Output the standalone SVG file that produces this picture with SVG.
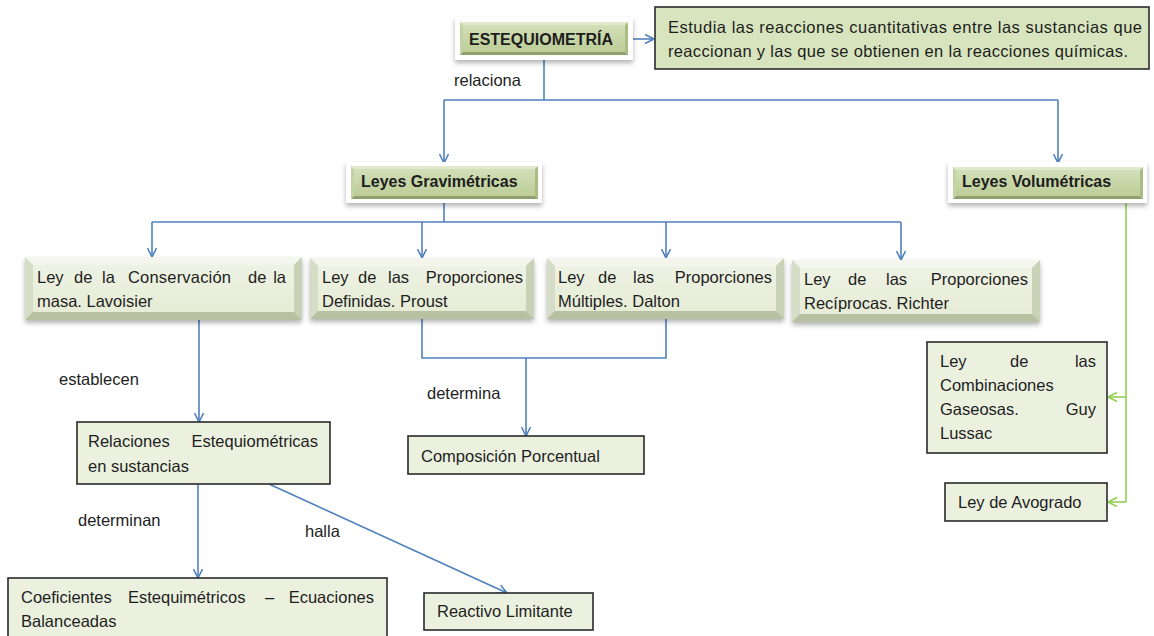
<svg xmlns="http://www.w3.org/2000/svg" width="1154" height="636" viewBox="0 0 1154 636">
<defs>
<style>
text{font-family:"Liberation Sans",Arial,sans-serif;font-size:16.5px;fill:#1e1e1e}
.b{font-weight:bold;font-size:16px}
.e{text-anchor:end}
.plain{fill:#ebf1de;stroke:#2a2a2a;stroke-width:1.6}
.desc{fill:#d7e4bd;stroke:#2a2a2a;stroke-width:1.6}
.frame{fill:#ffffff}
.bt{fill:#f4f6ee}.bl{fill:#d6ddc7}.br{fill:#c9d1b7}.bb{fill:#b7c1a2}
.face{fill:url(#gLight)}
.gt{fill:#e0e9cc}.gl{fill:#c4d3a4}.gr{fill:#a9bc83}.gb{fill:#8ea06b}
.gface{fill:url(#gGreen)}
.con{fill:none;stroke:#4f81bd;stroke-width:1.6}
.gcon{fill:none;stroke:#92d050;stroke-width:1.6}
</style>
<linearGradient id="gLight" x1="0" y1="0" x2="0" y2="1">
<stop offset="0" stop-color="#eef2e4"/><stop offset="1" stop-color="#e6ecd6"/>
</linearGradient>
<linearGradient id="gGreen" x1="0" y1="0" x2="0" y2="1">
<stop offset="0" stop-color="#d3dfb8"/><stop offset="1" stop-color="#bccd97"/>
</linearGradient>
<filter id="sh" x="-10%" y="-30%" width="120%" height="170%">
<feDropShadow dx="0" dy="3" stdDeviation="2.5" flood-color="#000" flood-opacity="0.3"/>
</filter>
<marker id="ab" viewBox="0 0 10 10" refX="10" refY="5" markerWidth="10" markerHeight="10" markerUnits="userSpaceOnUse" orient="auto">
<path d="M1,0.5 L10,5 L1,9.5" fill="none" stroke="#4f81bd" stroke-width="1.6"/>
</marker>
<marker id="ag" viewBox="0 0 10 10" refX="10" refY="5" markerWidth="10" markerHeight="10" markerUnits="userSpaceOnUse" orient="auto">
<path d="M1,0.5 L10,5 L1,9.5" fill="none" stroke="#92d050" stroke-width="1.6"/>
</marker>
</defs>
<rect width="1154" height="636" fill="#ffffff"/>

<g id="connectors">
<path class="con" d="M628,39 H654" marker-end="url(#ab)"/>
<path class="con" d="M544,55 V100"/>
<path class="con" d="M444,100 H1058"/>
<path class="con" d="M444,100 V163" marker-end="url(#ab)"/>
<path class="con" d="M1058,100 V163" marker-end="url(#ab)"/>
<path class="con" d="M444,199 V222"/>
<path class="con" d="M152,222 H901"/>
<path class="con" d="M152,222 V257" marker-end="url(#ab)"/>
<path class="con" d="M422,222 V258" marker-end="url(#ab)"/>
<path class="con" d="M666,222 V258" marker-end="url(#ab)"/>
<path class="con" d="M901,222 V260" marker-end="url(#ab)"/>
<path class="con" d="M199,320 V422" marker-end="url(#ab)"/>
<path class="con" d="M422,319 V358 H666 V319"/>
<path class="con" d="M526,358 V436" marker-end="url(#ab)"/>
<path class="con" d="M198,484 V578" marker-end="url(#ab)"/>
<path class="con" d="M269,484 L507,593" marker-end="url(#ab)"/>
<path class="gcon" d="M1126,203 V502"/>
<path class="gcon" d="M1126,397 H1108" marker-end="url(#ag)"/>
<path class="gcon" d="M1126,502 H1108" marker-end="url(#ag)"/>
<text x="454" y="86">relaciona</text>
<text x="59" y="385">establecen</text>
<text x="427" y="399">determina</text>
<text x="78" y="526">determinan</text>
<text x="305" y="537">halla</text>
</g>

<g id="estequiometria">
<rect class="frame" x="455" y="17" width="178" height="43" filter="url(#sh)"/>
<polygon class="gt" points="460,22 628,22 625,25 463,25"/>
<polygon class="gl" points="460,22 463,25 463,52 460,55"/>
<polygon class="gr" points="628,22 628,55 625,52 625,25"/>
<polygon class="gb" points="460,55 628,55 625,52 463,52"/>
<rect class="gface" x="463" y="25" width="162" height="27"/>
<text class="b" x="469" y="45">ESTEQUIOMETRÍA</text>
</g>

<g id="definicion">
<rect class="desc" x="655" y="7" width="494" height="62"/>
<text x="668" y="33" textLength="474" lengthAdjust="spacing">Estudia las reacciones cuantitativas entre las sustancias que</text>
<text x="668" y="57" textLength="460" lengthAdjust="spacing">reaccionan y las que se obtienen en la reacciones químicas.</text>
</g>

<g id="leyes-gravimetricas">
<rect class="frame" x="346" y="162" width="196" height="41" filter="url(#sh)"/>
<polygon class="gt" points="351,166 538,166 535,169 354,169"/>
<polygon class="gl" points="351,166 354,169 354,196 351,199"/>
<polygon class="gr" points="538,166 538,199 535,196 535,169"/>
<polygon class="gb" points="351,199 538,199 535,196 354,196"/>
<rect class="gface" x="354" y="169" width="181" height="27"/>
<text class="b" x="361" y="187">Leyes Gravimétricas</text>
</g>

<g id="leyes-volumetricas">
<rect class="frame" x="948" y="162" width="199" height="41" filter="url(#sh)"/>
<polygon class="gt" points="953,167 1143,167 1140,170 956,170"/>
<polygon class="gl" points="953,167 956,170 956,196 953,199"/>
<polygon class="gr" points="1143,167 1143,199 1140,196 1140,170"/>
<polygon class="gb" points="953,199 1143,199 1140,196 956,196"/>
<rect class="gface" x="956" y="170" width="184" height="26"/>
<text class="b" x="962" y="187">Leyes Volumétricas</text>
</g>

<g id="ley-conservacion">
<g filter="url(#sh)">
<polygon class="bt" points="25,257 302,257 294,265 33,265"/>
<polygon class="bl" points="25,257 33,265 33,312 25,320"/>
<polygon class="br" points="302,257 302,320 294,312 294,265"/>
<polygon class="bb" points="25,320 302,320 294,312 33,312"/>
<rect class="face" x="33" y="265" width="261" height="47"/>
</g>
<text x="37" y="283">Ley</text><text x="74" y="283">de</text><text x="102" y="283">la</text><text x="128" y="283" textLength="103" lengthAdjust="spacing">Conservación</text><text x="248" y="283">de</text><text class="e" x="286" y="283">la</text>
<text x="37" y="307">masa. Lavoisier</text>
</g>

<g id="ley-definidas">
<g filter="url(#sh)">
<polygon class="bt" points="310,258 534,258 526,266 318,266"/>
<polygon class="bl" points="310,258 318,266 318,311 310,319"/>
<polygon class="br" points="534,258 534,319 526,311 526,266"/>
<polygon class="bb" points="310,319 534,319 526,311 318,311"/>
<rect class="face" x="318" y="266" width="208" height="45"/>
</g>
<text x="322" y="283">Ley</text><text x="358" y="283">de</text><text x="388" y="283">las</text><text class="e" x="523" y="283">Proporciones</text>
<text x="322" y="307">Definidas. Proust</text>
</g>

<g id="ley-multiples">
<g filter="url(#sh)">
<polygon class="bt" points="547,258 784,258 776,266 555,266"/>
<polygon class="bl" points="547,258 555,266 555,311 547,319"/>
<polygon class="br" points="784,258 784,319 776,311 776,266"/>
<polygon class="bb" points="547,319 784,319 776,311 555,311"/>
<rect class="face" x="555" y="266" width="221" height="45"/>
</g>
<text x="558" y="283">Ley</text><text x="598" y="283">de</text><text x="633" y="283">las</text><text class="e" x="772" y="283">Proporciones</text>
<text x="558" y="307">Múltiples. Dalton</text>
</g>

<g id="ley-reciprocas">
<g filter="url(#sh)">
<polygon class="bt" points="792,260 1040,260 1032,268 800,268"/>
<polygon class="bl" points="792,260 800,268 800,314 792,322"/>
<polygon class="br" points="1040,260 1040,322 1032,314 1032,268"/>
<polygon class="bb" points="792,322 1040,322 1032,314 800,314"/>
<rect class="face" x="800" y="268" width="232" height="46"/>
</g>
<text x="804" y="285">Ley</text><text x="848" y="285">de</text><text x="886" y="285">las</text><text class="e" x="1028" y="285">Proporciones</text>
<text x="804" y="309">Recíprocas. Richter</text>
</g>

<g id="relaciones">
<rect class="plain" x="77" y="422" width="253" height="62"/>
<text x="88" y="447">Relaciones</text><text class="e" x="318" y="447">Estequiométricas</text>
<text x="88" y="472">en sustancias</text>
</g>

<g id="composicion">
<rect class="plain" x="408" y="436" width="236" height="38"/>
<text x="421" y="462">Composición Porcentual</text>
</g>

<g id="coeficientes">
<rect class="plain" x="8" y="578" width="379" height="64"/>
<text x="21" y="603">Coeficientes</text><text x="128" y="603">Estequimétricos</text><text x="265" y="603">–</text><text class="e" x="374" y="603">Ecuaciones</text>
<text x="21" y="627">Balanceadas</text>
</g>

<g id="reactivo">
<rect class="plain" x="424" y="593" width="169" height="37"/>
<text x="437" y="617">Reactivo Limitante</text>
</g>

<g id="combinaciones">
<rect class="plain" x="927" y="342" width="180" height="111"/>
<text x="940" y="367">Ley</text><text x="1010" y="367">de</text><text class="e" x="1096" y="367">las</text>
<text x="940" y="391">Combinaciones</text>
<text x="940" y="415">Gaseosas.</text><text class="e" x="1096" y="415">Guy</text>
<text x="940" y="439">Lussac</text>
</g>

<g id="avogrado">
<rect class="plain" x="945" y="483" width="162" height="38"/>
<text x="958" y="508">Ley de Avogrado</text>
</g>
</svg>
